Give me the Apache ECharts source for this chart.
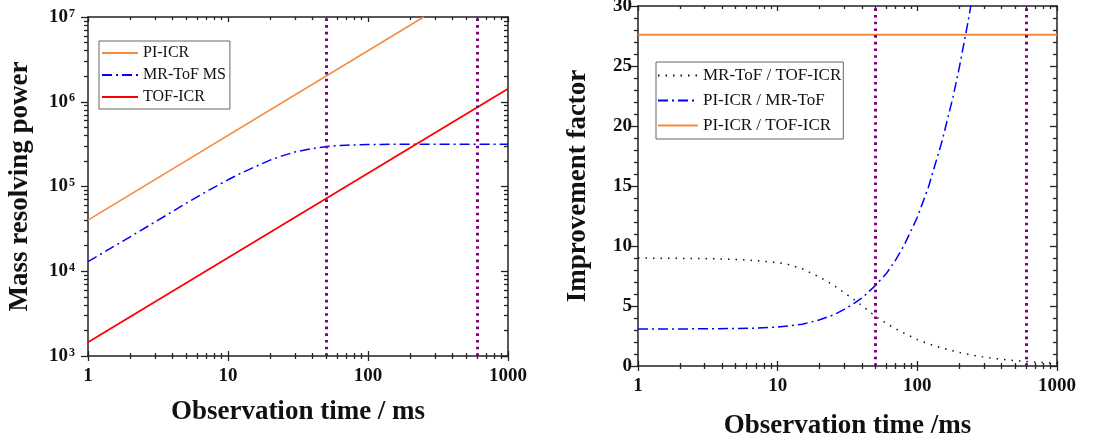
<!DOCTYPE html>
<html lang="en">
<head>
<meta charset="UTF-8">
<title>Resolving power vs observation time</title>
<script src="https://cdn.jsdelivr.net/npm/echarts@6/dist/echarts.min.js"></script>
<style>
  html, body { margin: 0; padding: 0; background: #fff; }
  #chart { width: 1118px; height: 443px; }
</style>
</head>
<body>
<div id="chart"></div>
<script>
// ---- left panel: mass resolving power ----
const piIcrTime = [1, 250];
const piIcrPower = [4.0e4, 1.0e7];
const tofIcrTime = [1, 1000];
const tofIcrPower = [1.45e3, 1.42e6];
const mrTofTime = [1, 2, 3, 5, 7, 10, 12, 15, 20, 25, 30, 40, 50, 60, 70, 100, 150, 200, 300, 500, 1000];
const mrTofPower = [1.3e4, 2.55e4, 3.8e4, 6.3e4, 8.7e4, 1.2e5, 1.4e5, 1.66e5, 2.05e5, 2.33e5, 2.55e5, 2.8e5, 2.95e5, 3.03e5, 3.07e5, 3.12e5, 3.15e5, 3.16e5, 3.16e5, 3.15e5, 3.15e5];

// ---- right panel: improvement factors ----
const ratioTime = [1, 2, 3, 5, 7, 10, 12, 15, 20, 25, 30, 35, 40, 50, 60, 70, 80, 100, 120, 150, 200, 250, 300, 400, 500, 600, 700, 800, 1000];
const mrTofOverTof = [9.0, 8.97, 8.95, 8.88, 8.78, 8.62, 8.45, 8.1, 7.4, 6.75, 6.1, 5.55, 5.05, 4.15, 3.55, 3.1, 2.75, 2.2, 1.85, 1.5, 1.12, 0.9, 0.75, 0.56, 0.45, 0.37, 0.32, 0.28, 0.22];
const piOverMrTime = [1, 2, 3, 5, 7, 10, 12, 15, 20, 25, 30, 35, 40, 50, 60, 70, 80, 100, 120, 150, 180, 200, 230, 250];
const piOverMr = [3.08, 3.09, 3.1, 3.12, 3.16, 3.25, 3.33, 3.48, 3.85, 4.25, 4.72, 5.2, 5.65, 6.7, 7.7, 8.85, 10.0, 12.4, 14.9, 18.7, 22.4, 24.9, 28.6, 31.0];
const piOverTofTime = [1, 1000];
const piOverTof = [27.6, 27.6];

// dotted markers (ms) and minor tick positions
const markerTimes = [50, 600];
const xMinorTicks = [2, 3, 4, 5, 6, 7, 8, 9, 20, 30, 40, 50, 60, 70, 80, 90, 200, 300, 400, 500, 600, 700, 800, 900];
const minorDigits = [2, 3, 4, 5, 6, 7, 8, 9];
const yDecades = [1e3, 1e4, 1e5, 1e6];
const yMinorTicks = yDecades.flatMap(d => minorDigits.map(m => m * d));

const FONT = 'Liberation Serif';
const INK = '#222';
const pairs = (xs, ys) => xs.map((x, i) => [x, ys[i]]);

// bare axis that only draws ticks (mirrored / crossing / minor ticks)
function tickAxis(grid, type, position, min, max, inside, len, custom, showLine) {
    return {
        gridIndex: grid, type: type, position: position, min: min, max: max, logBase: 10,
        axisLine: {show: !!showLine, onZero: false, lineStyle: {color: INK, width: 1.5}},
        axisLabel: {show: false},
        splitLine: {show: false},
        axisTick: {show: true, inside: inside, length: len, customValues: custom,
            lineStyle: {color: INK, width: 1.3}}
    };
}

const tickFont = {fontFamily: FONT, fontWeight: 'bold', fontSize: 19, color: '#111'};
const nameFont = {fontFamily: FONT, fontWeight: 'bold', fontSize: 27, color: '#111'};

const xAxes = [
    // left panel (0..5)
    {
        gridIndex: 0, type: 'log', logBase: 10, position: 'bottom', min: 1, max: 1000,
        name: 'Observation time / ms', nameLocation: 'middle', nameGap: 43, nameTextStyle: nameFont,
        axisLine: {onZero: false, lineStyle: {color: INK, width: 1.5}},
        axisTick: {inside: true, length: 5, lineStyle: {color: INK, width: 1.3}},
        axisLabel: Object.assign({margin: 11, formatter: v => String(v)}, tickFont),
        splitLine: {show: false}
    },
    tickAxis(0, 'log', 'bottom', 1, 1000, false, 5),
    tickAxis(0, 'log', 'bottom', 1, 1000, true, 3, xMinorTicks),
    tickAxis(0, 'log', 'bottom', 1, 1000, false, 3, xMinorTicks),
    tickAxis(0, 'log', 'top', 1, 1000, true, 5, undefined, true),
    tickAxis(0, 'log', 'top', 1, 1000, true, 3, xMinorTicks),
    // right panel (6..11)
    {
        gridIndex: 1, type: 'log', logBase: 10, position: 'bottom', min: 1, max: 1000,
        name: 'Observation time /ms', nameLocation: 'middle', nameGap: 47, nameTextStyle: nameFont,
        axisLine: {onZero: false, lineStyle: {color: INK, width: 1.5}},
        axisTick: {inside: true, length: 5, lineStyle: {color: INK, width: 1.3}},
        axisLabel: Object.assign({margin: 11, formatter: v => String(v)}, tickFont),
        splitLine: {show: false}
    },
    tickAxis(1, 'log', 'bottom', 1, 1000, false, 5),
    tickAxis(1, 'log', 'bottom', 1, 1000, true, 3, xMinorTicks),
    tickAxis(1, 'log', 'bottom', 1, 1000, false, 3, xMinorTicks),
    tickAxis(1, 'log', 'top', 1, 1000, true, 5, undefined, true),
    tickAxis(1, 'log', 'top', 1, 1000, true, 3, xMinorTicks)
];

const yAxes = [
    // left panel (0..3)
    {
        gridIndex: 0, type: 'log', logBase: 10, position: 'left', min: 1e3, max: 1e7,
        name: 'Mass resolving power', nameLocation: 'middle', nameGap: 54, nameTextStyle: nameFont,
        axisLine: {onZero: false, lineStyle: {color: INK, width: 1.5}},
        axisTick: {inside: false, length: 7, lineStyle: {color: INK, width: 1.3}},
        axisLabel: {
            margin: 13,
            formatter: v => '{b|10}{s|' + Math.round(Math.log10(v)) + '}',
            rich: {
                b: tickFont,
                s: {fontFamily: FONT, fontWeight: 'bold', fontSize: 12, color: '#111',
                    verticalAlign: 'top', padding: [0, 0, 6, 1]}
            }
        },
        splitLine: {show: false}
    },
    tickAxis(0, 'log', 'left', 1e3, 1e7, false, 4, yMinorTicks),
    tickAxis(0, 'log', 'right', 1e3, 1e7, true, 7, undefined, true),
    tickAxis(0, 'log', 'right', 1e3, 1e7, true, 4, yMinorTicks),
    // right panel (4..5)
    {
        gridIndex: 1, type: 'value', position: 'left', min: 0, max: 30, interval: 5,
        name: 'Improvement factor', nameLocation: 'middle', nameGap: 46, nameTextStyle: nameFont,
        axisLine: {onZero: false, lineStyle: {color: INK, width: 1.5}},
        axisTick: {inside: false, length: 7, lineStyle: {color: INK, width: 1.3}},
        minorTick: {show: true, splitNumber: 5, length: 4, lineStyle: {color: INK, width: 1.3}},
        axisLabel: Object.assign({margin: 6}, tickFont),
        splitLine: {show: false}
    },
    {
        gridIndex: 1, type: 'value', position: 'right', min: 0, max: 30, interval: 5,
        axisLine: {onZero: false, lineStyle: {color: INK, width: 1.5}},
        axisTick: {inside: true, length: 7, lineStyle: {color: INK, width: 1.3}},
        minorTick: {show: true, splitNumber: 5, length: 4, lineStyle: {color: INK, width: 1.3}},
        axisLabel: {show: false},
        splitLine: {show: false}
    }
];

const markers = {
    silent: true,
    symbol: ['none', 'none'],
    label: {show: false},
    lineStyle: {color: '#800080', width: 3, type: [2.6, 4.1]},
    data: markerTimes.map(t => ({xAxis: t}))
};

function curve(name, xi, yi, data, color, width, dash, extra) {
    return Object.assign({
        name: name, type: 'line', xAxisIndex: xi, yAxisIndex: yi,
        data: data, symbol: 'none', clip: true,
        lineStyle: {color: color, width: width, type: dash},
        itemStyle: {color: color}
    }, extra || {});
}

const series = [
    curve('PI-ICR', 0, 0, pairs(piIcrTime, piIcrPower), '#f58a3a', 1.5, 'solid'),
    curve('MR-ToF MS', 0, 0, pairs(mrTofTime, mrTofPower), '#0000ff', 1.5, [10, 4, 2, 4]),
    curve('TOF-ICR', 0, 0, pairs(tofIcrTime, tofIcrPower), '#ff0000', 1.8, 'solid', {markLine: markers}),
    curve('MR-ToF / TOF-ICR', 6, 4, pairs(ratioTime, mrTofOverTof), '#111', 1.5, [1.5, 6]),
    curve('PI-ICR / MR-ToF', 6, 4, pairs(piOverMrTime, piOverMr), '#0000ff', 1.5, [10, 4, 2, 4]),
    curve('PI-ICR / TOF-ICR', 6, 4, pairs(piOverTofTime, piOverTof), '#f58a3a', 2, 'solid', {markLine: markers})
];

const legendBase = {
    orient: 'vertical',
    itemWidth: 36, itemHeight: 14,
    backgroundColor: '#fff',
    borderColor: '#666', borderWidth: 1,
    itemStyle: {opacity: 0},
    textStyle: {fontFamily: FONT, fontSize: 16, color: '#111'},
    selectedMode: false
};

const option = {
    animation: false,
    backgroundColor: '#fff',
    grid: [
        {left: 88, top: 17, width: 420, height: 339, outerBoundsMode: 'none'},
        {left: 638, top: 6, width: 419, height: 360, outerBoundsMode: 'none'}
    ],
    legend: [
        Object.assign({}, legendBase, {
            left: 99, top: 41, itemGap: 6, padding: [4, 4, 4, 2],
            data: ['PI-ICR', 'MR-ToF MS', 'TOF-ICR']
        }),
        Object.assign({}, legendBase, {
            left: 656, top: 62, itemGap: 8, itemWidth: 40, padding: [5, 2, 5, 1],
            textStyle: {fontFamily: FONT, fontSize: 17, color: '#111'},
            data: ['MR-ToF / TOF-ICR', 'PI-ICR / MR-ToF', 'PI-ICR / TOF-ICR']
        })
    ],
    xAxis: xAxes,
    yAxis: yAxes,
    series: series
};

const myChart = echarts.init(document.getElementById('chart'));
myChart.setOption(option);
</script>
</body>
</html>
